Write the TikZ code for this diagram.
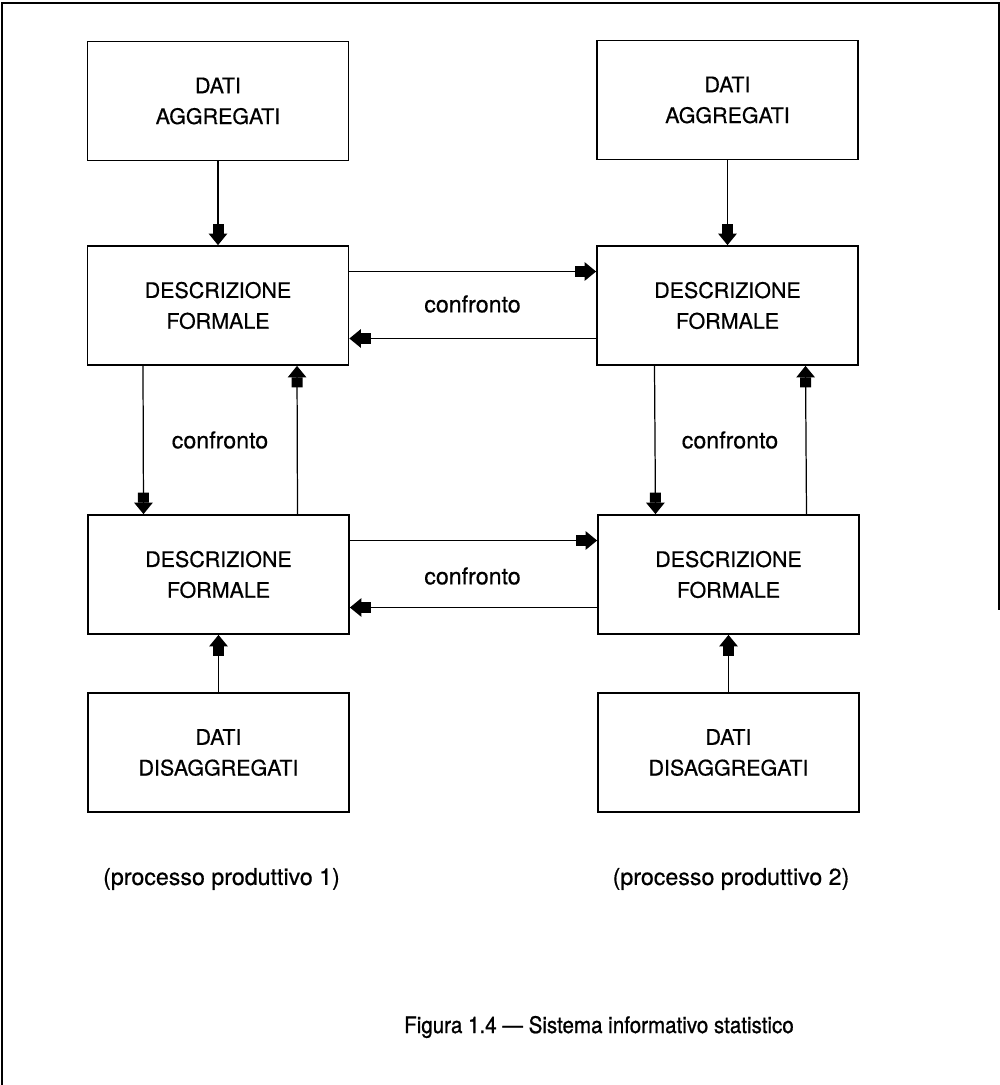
\documentclass[tikz,border=0pt]{standalone}
\usepackage{fontspec}
\setmainfont{TeX Gyre Heros}[FakeBold=0.5]
\newfontfamily\captfont{TeX Gyre Heros}[FakeBold=0.9,FakeStretch=0.9]
\usetikzlibrary{arrows.meta}
\begin{document}
\begin{tikzpicture}[
  box/.style={draw, line width=1pt, minimum width=5.22cm, minimum height=2.38cm,
              align=center, font=\fontsize{12.2}{17.5}\selectfont, inner sep=0pt},
  lbl/.style={font=\fontsize{13.2}{15}\selectfont},
  capt/.style={font=\captfont\fontsize{13}{15}\selectfont},
  flow/.style={line width=0.7pt,
    -{Rectangle[width=0.22cm,length=0.2cm,sep=0pt]Triangle[width=0.37cm,length=0.23cm]}},
]
\useasboundingbox (0,0) rectangle (20,-21.7);
% page frame (open at the bottom, right side cut short)
\draw[line width=0.9pt] (0.04,-21.7) -- (0.04,-0.06) -- (19.98,-0.06) -- (19.98,-12.2);

% left production process
\node[box] (aggL) at (4.36,-2.02) {DATI\\AGGREGATI};
\node[box] (d1L)  at (4.36,-6.11) {DESCRIZIONE\\FORMALE};
\node[box] (d2L)  at (4.37,-11.49) {DESCRIZIONE\\FORMALE};
\node[box] (disL) at (4.37,-15.05) {DATI\\DISAGGREGATI};

% right production process
\node[box] (aggR) at (14.55,-2.0) {DATI\\AGGREGATI};
\node[box] (d1R)  at (14.55,-6.11) {DESCRIZIONE\\FORMALE};
\node[box] (d2R)  at (14.57,-11.49) {DESCRIZIONE\\FORMALE};
\node[box] (disR) at (14.57,-15.05) {DATI\\DISAGGREGATI};

% aggregated data feed the formal descriptions
\draw[flow] (aggL.south) -- (d1L.north);
\draw[flow] (aggR.south) -- (d1R.north);
% disaggregated data feed the formal descriptions
\draw[flow] (disL.north) -- (d2L.south);
\draw[flow] (disR.north) -- (d2R.south);

% horizontal comparisons
\draw[flow] ([yshift=0.68cm]d1L.east) -- ([yshift=0.68cm]d1R.west);
\draw[flow] ([yshift=-0.66cm]d1R.west) -- ([yshift=-0.66cm]d1L.east);
\node[lbl] (c1) at (9.45,-6.08) {confronto};
\draw[flow] ([yshift=0.68cm]d2L.east) -- ([yshift=0.68cm]d2R.west);
\draw[flow] ([yshift=-0.66cm]d2R.west) -- ([yshift=-0.66cm]d2L.east);
\node[lbl] (c2) at (9.45,-11.52) {confronto};

% vertical comparisons
\draw[flow] ([xshift=-1.5cm]d1L.south) -- ([xshift=-1.5cm]d2L.north);
\draw[flow] ([xshift=1.58cm]d2L.north) -- ([xshift=1.58cm]d1L.south);
\node[lbl] (c3) at (4.4,-8.8) {confronto};
\draw[flow] ([xshift=-1.46cm]d1R.south) -- ([xshift=-1.46cm]d2R.north);
\draw[flow] ([xshift=1.56cm]d2R.north) -- ([xshift=1.56cm]d1R.south);
\node[lbl] (c4) at (14.6,-8.8) {confronto};

% process captions
\node[lbl] (p1) at (4.43,-17.58) {(processo produttivo 1)};
\node[lbl] (p2) at (14.62,-17.58) {(processo produttivo 2)};

% figure caption
\node[capt] (cap) at (11.98,-20.54) {Figura 1.4 — Sistema informativo statistico};
\end{tikzpicture}
\end{document}
